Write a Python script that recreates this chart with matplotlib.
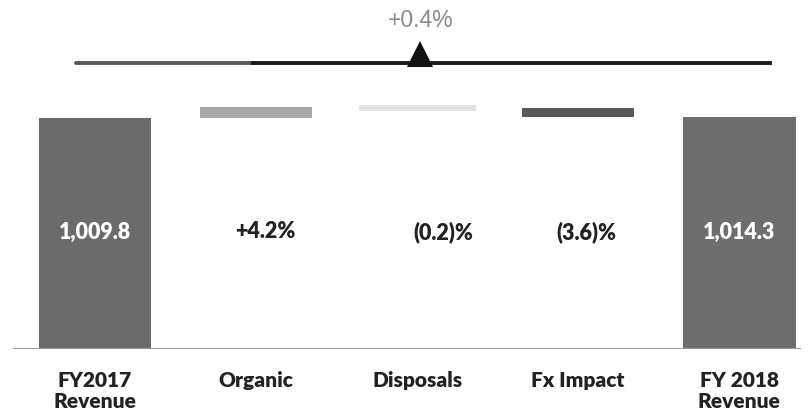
import matplotlib
matplotlib.use("Agg")
import matplotlib.pyplot as plt
import numpy as np

# waterfall data (EUR m / % change)
categories = ["FY2017\nRevenue", "Organic", "Disposals", "Fx Impact", "FY 2018\nRevenue"]
start_value = 1009.8
end_value = 1014.3
steps = [42.4, -2.0, -36.4]          # organic, disposals, fx impact
value_labels = ["1,009.8", "+4.2%", "(0.2)%", "(3.6)%", "1,014.3"]
total_change = "+0.4%"

colors = ["#6b6b6b", "#a9a9a9", "#e4e4e4", "#585858", "#6e6e6e"]
label_colors = ["white", "#222222", "#222222", "#222222", "white"]
label_dx = [0, 0.06, 0.16, 0.05, 0]   # value labels sit a bit right of centre

BASE = 77      # broken axis: bars start here
YTOP = 1485

plt.rcParams['font.family'] = ['Lato', 'DejaVu Sans']

fig = plt.figure(figsize=(8.1, 4.2), dpi=100)
ax = fig.add_axes([0, 71.5 / 420, 1, 348.5 / 420])

x = np.arange(len(categories))

# bottoms / heights for the floating steps
running = start_value
bottoms = [BASE]
heights = [start_value - BASE]
for s in steps:
    bottoms.append(min(running, running + s))
    heights.append(abs(s))
    running += s
bottoms.append(BASE)
heights.append(end_value - BASE)

bars = ax.bar(x, heights, bottom=bottoms, width=0.7, color=colors, zorder=2)
# the disposals step is tiny, give it a visible edge
bars[2].set_edgecolor(colors[2])
bars[2].set_linewidth(3.5)

# value labels in the middle band
label_y = 548
for i, txt in enumerate(value_labels):
    ax.text(x[i] + label_dx[i], label_y, txt, ha='center', va='center', fontsize=15.5,
            fontweight='heavy', color=label_colors[i])

# overall change marker at the top
line_y = 1230
ax.plot([-0.12, 0.98], [line_y, line_y], color="#5a5a5a", lw=2.8,
        solid_capstyle='round', zorder=3)
ax.plot([0.98, 4.19], [line_y, line_y], color="#1a1a1a", lw=2.8, zorder=3)
ax.plot([2.02], [line_y + 36], marker='^', markersize=19, color="#111111",
        zorder=4, markeredgewidth=0)
ax.text(2.02, 1402, total_change, ha='center', va='center', fontsize=16.5,
        color="#8a8a8a", family=['Liberation Sans', 'DejaVu Sans'])

# baseline
ax.axhline(BASE, xmin=0.017, xmax=0.988, color="#999999", lw=1.4, zorder=3)

ax.set_xlim(-0.59, 4.44)
ax.set_ylim(BASE, YTOP)
ax.set_xticks(x)
ax.set_xticklabels(categories, fontsize=15, fontweight='heavy', color="#222222",
                   linespacing=1.12, va='top')
ax.tick_params(axis='x', length=0, pad=16)
ax.set_yticks([])
for sp in ax.spines.values():
    sp.set_visible(False)

fig.savefig("out.png", dpi=100, facecolor="white")
